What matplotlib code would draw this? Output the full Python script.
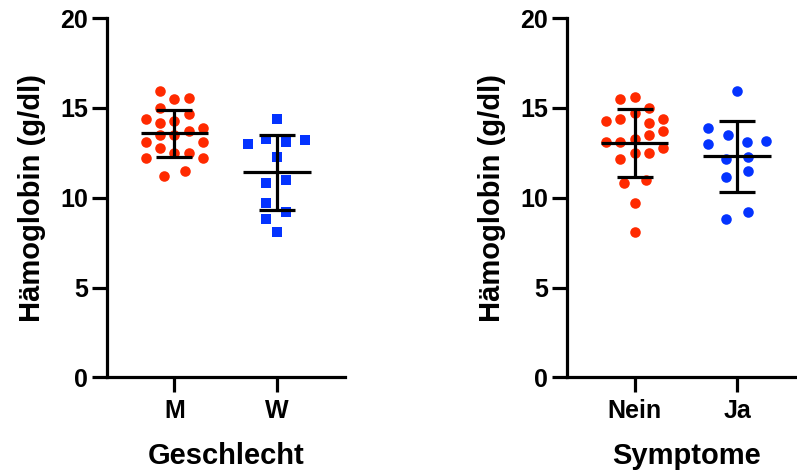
import numpy as np
import matplotlib
matplotlib.use("Agg")
import matplotlib.pyplot as plt

plt.rcParams['font.family'] = ['Liberation Sans', 'DejaVu Sans']
plt.rcParams['font.weight'] = 'bold'

# ---- data (Hämoglobin g/dl) ----
sex_categories = ["M", "W"]
hb_m = [15.96, 15.48, 15.57, 14.98, 14.68, 14.39, 14.18, 14.28, 13.87, 13.69,
        13.50, 13.50, 13.09, 13.09, 12.79, 12.50, 12.50, 12.20, 12.20, 11.50, 11.20]
hb_w = [14.37, 12.98, 13.28, 13.09, 13.22, 12.28, 10.83, 10.98, 9.72, 9.22, 8.83, 8.09]

symptom_categories = ["Nein", "Ja"]
hb_nein = [15.48, 15.59, 14.98, 14.70, 14.28, 14.37, 14.18, 14.37, 13.69, 13.48,
           13.11, 13.11, 13.28, 12.79, 12.18, 12.50, 12.50, 10.81, 11.00, 9.70, 8.09]
hb_ja = [15.96, 13.87, 13.48, 13.00, 13.09, 13.18, 12.18, 12.28, 11.48, 11.18, 9.20, 8.81]

y_ticks = [0, 5, 10, 15, 20]
y_label = "Hämoglobin (g/dl)"
x_label_left = "Geschlecht"
x_label_right = "Symptome"

# ---- layout: horizontal scatter slots (GraphPad-style spread) ----
slot_m = [-1, 0, 1, -1, 1, -2, -1, 0, 2, 1, -1, 0, -2, 2, -1, 0, 1, -2, 2, 0.75, -0.75]
slot_w = [0, -2, -0.75, 0.65, 1.95, 0, -0.75, 0.65, -0.75, 0.65, -0.75, 0]
slot_nein = [-1, 0, 1, 0, -2, -1, 1, 2, 2, 1, -2, -1, 0, 2, -1, 0, 1, -0.77, 0.77, 0, 0]
slot_ja = [0, -2, -0.65, -2, 0.7, 2, -0.75, 0.77, 0.77, -0.75, 0.77, -0.75]
SLOT_STEP = 0.14

RED = "#FF2A00"
BLUE = "#0433FF"
LW = 2.3

fig = plt.figure(figsize=(7.97, 4.75), dpi=100)
ax_l = fig.add_axes([0.1343, 0.2053, 0.2986, 0.7568])
ax_r = fig.add_axes([0.7118, 0.2053, 0.2986, 0.7568])


def draw_group(ax, pos, values, slots, color, marker, ms):
    v = np.asarray(values)
    x = pos + np.asarray(slots) * SLOT_STEP
    ax.plot(x, v, linestyle='none', marker=marker, ms=ms, color=color,
            markeredgewidth=0, zorder=2, clip_on=False)
    mean = v.mean()
    sd = v.std(ddof=1)
    ax.plot([pos - 0.33, pos + 0.33], [mean, mean], color='black', lw=LW,
            solid_capstyle='butt', zorder=3)
    ax.plot([pos, pos], [mean - sd, mean + sd], color='black', lw=LW,
            solid_capstyle='butt', zorder=3)
    for y in (mean - sd, mean + sd):
        ax.plot([pos - 0.176, pos + 0.176], [y, y], color='black', lw=LW,
                solid_capstyle='butt', zorder=3)


def style_axes(ax, cats, xlabel):
    ax.set_xlim(-0.657, 1.667)
    ax.set_ylim(0, 20)
    ax.set_yticks(y_ticks)
    ax.set_xticks(range(len(cats)))
    ax.set_xticklabels(cats)
    for s in ('top', 'right'):
        ax.spines[s].set_visible(False)
    for s in ('left', 'bottom'):
        ax.spines[s].set_linewidth(LW)
        ax.spines[s].set_capstyle('projecting')
    ax.tick_params(axis='both', direction='out', length=10.8, width=LW,
                   labelsize=18)
    ax.tick_params(axis='x', pad=5)
    ax.tick_params(axis='y', pad=3)
    for lab in ax.get_xticklabels() + ax.get_yticklabels():
        lab.set_fontweight('bold')
    ax.set_ylabel(y_label, fontsize=21, fontweight='bold', labelpad=10)
    ax.set_xlabel(xlabel, fontsize=21, fontweight='bold', labelpad=13.5)


draw_group(ax_l, 0, hb_m, slot_m, RED, 'o', 7.6)
draw_group(ax_l, 1, hb_w, slot_w, BLUE, 's', 7.9)
style_axes(ax_l, sex_categories, x_label_left)

draw_group(ax_r, 0, hb_nein, slot_nein, RED, 'o', 7.6)
draw_group(ax_r, 1, hb_ja, slot_ja, BLUE, 'o', 7.6)
style_axes(ax_r, symptom_categories, x_label_right)

fig.savefig("out.png", dpi=100)
